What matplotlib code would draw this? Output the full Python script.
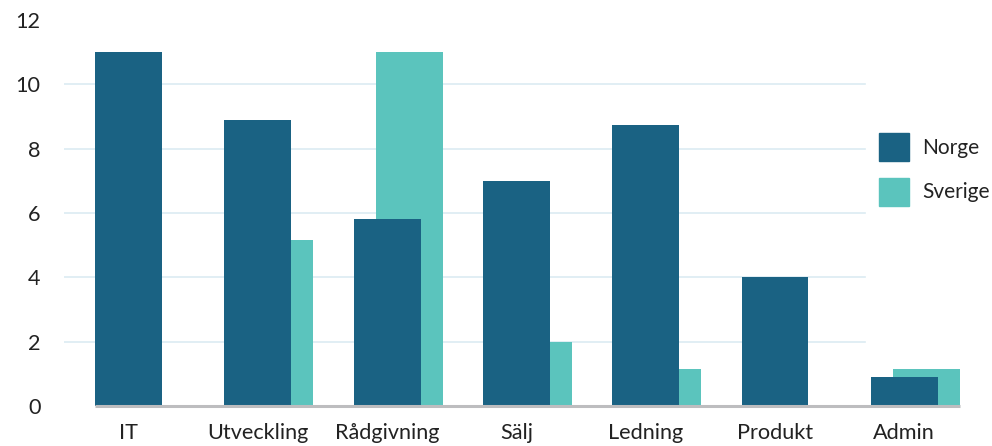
import matplotlib.pyplot as plt
from matplotlib.patches import Patch
import numpy as np

plt.rcParams['font.family'] = ['Lato', 'DejaVu Sans']

categories = ['IT', 'Utveckling', 'Rådgivning', 'Sälj', 'Ledning', 'Produkt', 'Admin']
norge = [11, 8.9, 5.8, 7.0, 8.75, 4.0, 0.9]
sverige = [0, 5.15, 11, 2.0, 1.15, 0, 1.15]

c_norge = '#1a6283'
c_sverige = '#5bc4bd'
grid_col = '#dcebf2'
text_col = '#222222'

fig = plt.figure(figsize=(9.92, 4.46), dpi=100)
ax = fig.add_axes([64 / 992, 40 / 446, (975 - 64) / 992, (406 - 20) / 446])

x = np.arange(len(categories))
w = 0.518
off = 0.17

# gridlines (stop before the legend area)
xmin_ax, xmax_ax = -0.5, 6.547
ax.set_xlim(xmin_ax, xmax_ax)
ax.set_ylim(0, 12)
grid_end = (5.696 - xmin_ax) / (xmax_ax - xmin_ax)
for yv in [2, 4, 6, 8, 10]:
    ax.axhline(yv, xmin=0, xmax=grid_end, color=grid_col, lw=1.2, zorder=0)

ax.bar(x + off, sverige, width=w, color=c_sverige, zorder=2)
ax.bar(x, norge, width=w, color=c_norge, zorder=3)

# baseline
ax.plot([x[0] - w / 2, x[-1] + off + w / 2], [0, 0], color='#bdbdbf', lw=2.2,
        zorder=4, solid_capstyle='butt', clip_on=False)

for s in ax.spines.values():
    s.set_visible(False)
ax.set_xticks(x)
ax.set_xticklabels(categories)
ax.set_yticks([0, 2, 4, 6, 8, 10, 12])
ax.tick_params(axis='both', length=0, labelsize=15.6, colors=text_col)
ax.tick_params(axis='x', pad=12)
ax.tick_params(axis='y', pad=17)

handles = [Patch(color=c_norge, label='Norge'), Patch(color=c_sverige, label='Sverige')]
fig.legend(handles=handles, loc='upper left', bbox_to_anchor=(879 / 992, 1 - 133 / 446),
           frameon=False, fontsize=15, handlelength=1.45, handleheight=1.685,
           labelspacing=0.8, handletextpad=0.64, borderpad=0, borderaxespad=0,
           labelcolor=text_col)

fig.savefig('out.png', dpi=100)
